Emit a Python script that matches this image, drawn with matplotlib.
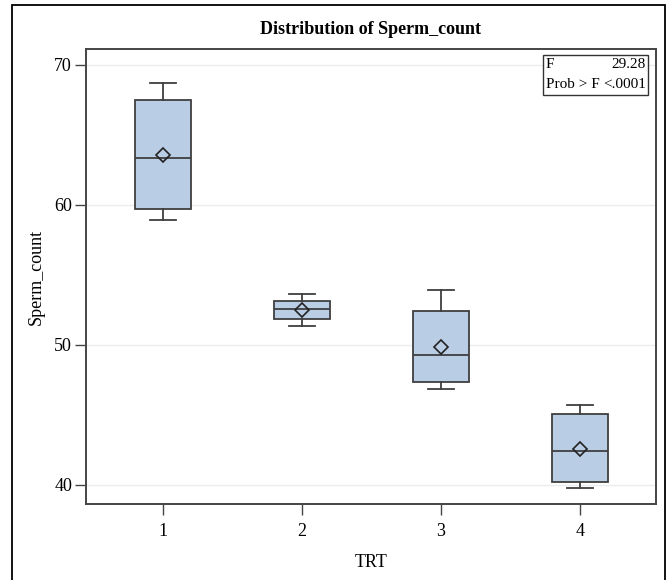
import matplotlib.pyplot as plt
from matplotlib.patches import Rectangle

# box summaries, one entry per TRT group
groups = ['1', '2', '3', '4']
whis_lo = [58.93, 51.34, 46.84, 39.81]
q1 = [59.71, 51.86, 47.34, 40.19]
medians = [63.36, 52.57, 49.31, 42.43]
q3 = [67.50, 53.14, 52.41, 45.05]
whis_hi = [68.71, 53.62, 53.93, 45.71]
means = [63.57, 52.50, 49.84, 42.57]

f_value = '29.28'
p_value = '<.0001'

plt.rcParams['font.family'] = ['Liberation Serif', 'DejaVu Serif']

stats = []
for i in range(len(groups)):
    stats.append({'label': groups[i], 'whislo': whis_lo[i], 'q1': q1[i],
                  'med': medians[i], 'q3': q3[i], 'whishi': whis_hi[i],
                  'mean': means[i], 'fliers': []})

fig = plt.figure(figsize=(6.69, 5.80), dpi=100)
ax = fig.add_axes([86 / 669, 1 - 504 / 580, (656 - 86) / 669, (504 - 49) / 580])

edge = '#3f3f3f'
ax.bxp(stats, positions=[1, 2, 3, 4], widths=0.40, patch_artist=True,
       showmeans=True, capwidths=0.19,
       boxprops=dict(facecolor='#b9cde5', edgecolor=edge, linewidth=1.3),
       medianprops=dict(color=edge, linewidth=1.3),
       whiskerprops=dict(color=edge, linewidth=1.3),
       capprops=dict(color=edge, linewidth=1.3),
       meanprops=dict(marker='D', markersize=7, markerfacecolor='none',
                      markeredgecolor='#222222', markeredgewidth=1.2))

ax.set_xlim(0.446, 4.547)
ax.set_ylim(38.64, 71.14)
ax.set_yticks([40, 50, 60, 70])
ax.yaxis.grid(True, color='#ececec', linewidth=1.0)
ax.set_axisbelow(True)
ax.tick_params(direction='out', length=8, width=1, color='#444444', labelsize=13)
ax.tick_params(axis='x', pad=6)
ax.tick_params(axis='y', pad=2)
for s in ax.spines.values():
    s.set_color('#444444')
    s.set_linewidth(1.4)

ax.set_xlabel('TRT', fontsize=13, labelpad=10)
ax.set_ylabel('Sperm_count', fontsize=13, labelpad=7)
fig.text(371 / 669, 1 - 30 / 580, 'Distribution of Sperm_count',
         ha='center', va='center', fontsize=13, fontweight='bold')

# inset statistics table
tb = Rectangle((543 / 669, 1 - 95 / 580), 105 / 669, 40 / 580, transform=fig.transFigure,
               fill=True, facecolor='white', edgecolor='#333333', linewidth=1.0)
fig.patches.append(tb)
fig.text(546 / 669, 1 - 65 / 580, 'F', ha='left', va='center', fontsize=11)
fig.text(646 / 669, 1 - 65 / 580, f_value, ha='right', va='center', fontsize=11)
fig.text(546 / 669, 1 - 85 / 580, 'Prob > F', ha='left', va='center', fontsize=11)
fig.text(646 / 669, 1 - 85 / 580, p_value, ha='right', va='center', fontsize=11)

# outer frame
frame = Rectangle((12 / 669, -0.02), (665 - 12) / 669, 1 - 5 / 580 + 0.02,
                  transform=fig.transFigure, fill=False, edgecolor='black', linewidth=1.3)
fig.patches.append(frame)

fig.savefig('out.png', dpi=100)
